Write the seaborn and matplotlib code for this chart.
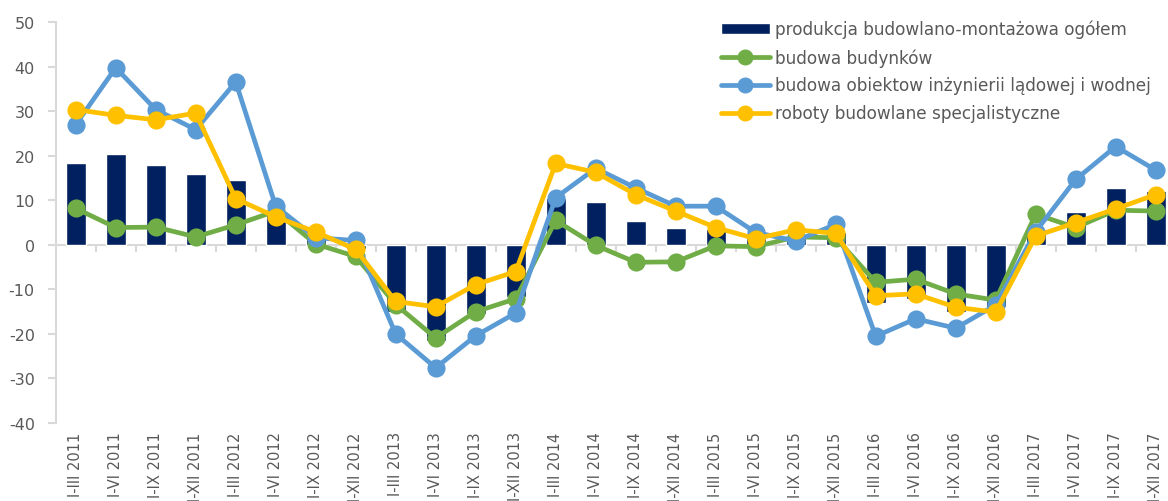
import pandas as pd
import seaborn as sns
import matplotlib.pyplot as plt
from matplotlib.lines import Line2D
from matplotlib.patches import Patch

periods = []
for year in range(2011, 2018):
    for q in ["I-III", "I-VI", "I-IX", "I-XII"]:
        periods.append(f"{q} {year}")

ogolem = [18.4, 20.4, 18.0, 16.0, 14.5, 7.5, 1.3, -1.0, -15.1, -21.5, -15.5, -11.8, 10.6, 9.7,
          5.4, 3.7, 3.5, 1.5, 1.5, 2.8, -13.0, -12.1, -15.0, -14.0, 3.5, 7.4, 12.8, 12.1]
budynki = [8.2, 3.9, 4.0, 1.8, 4.5, 7.6, 0.2, -2.6, -13.4, -20.9, -15.0, -12.1, 5.5, -0.1,
           -3.9, -3.8, -0.2, -0.4, 1.8, 1.6, -8.4, -7.7, -11.0, -12.4, 6.9, 3.9, 7.8, 7.6]
inzynieria = [27.0, 39.8, 30.4, 25.9, 36.6, 8.7, 1.6, 1.0, -20.0, -27.6, -20.4, -15.3, 10.6, 17.2,
              12.8, 8.7, 8.7, 2.8, 0.9, 4.6, -20.5, -16.6, -18.7, -13.5, 3.0, 14.7, 22.1, 16.8]
specjalistyczne = [30.4, 29.1, 28.1, 29.6, 10.4, 6.3, 2.9, -1.0, -12.7, -13.9, -8.9, -6.0, 18.3, 16.3,
                   11.3, 7.6, 3.9, 1.4, 3.4, 2.6, -11.4, -11.0, -14.0, -15.1, 2.0, 5.0, 8.1, 11.3]

bar_name = "produkcja budowlano-montażowa ogółem"
line_names = ["budowa budynków", "budowa obiektow inżynierii lądowej i wodnej",
              "roboty budowlane specjalistyczne"]
colours = {"bar": "#002060", line_names[0]: "#70AD47", line_names[1]: "#5B9BD5",
           line_names[2]: "#FFC000"}

barDf = pd.DataFrame({"Okres": periods, "Wartosc": ogolem})
lineDf = pd.concat([
    pd.DataFrame({"Okres": periods, "Wartosc": vals, "Seria": name})
    for name, vals in zip(line_names, [budynki, inzynieria, specjalistyczne])
])

sns.set_style("white")
plt.rcParams["font.family"] = ["DejaVu Sans"]
plt.rcParams["axes.unicode_minus"] = False
textGrey = "#595959"
axisGrey = "#D9D9D9"

fig = plt.figure(figsize=(11.68, 5.02), dpi=100)
ax = fig.add_axes([55.7 / 1168, 78 / 502, 1120 / 1168, 400.7 / 502])

sns.barplot(data=barDf, x="Okres", y="Wartosc", order=periods, color=colours["bar"],
            width=0.5, saturation=1, ax=ax, zorder=2)
sns.pointplot(data=lineDf, x="Okres", y="Wartosc", hue="Seria", order=periods,
              hue_order=line_names, palette=[colours[n] for n in line_names],
              markers="o", markersize=10.5, linewidth=3.4, ax=ax, legend=False)
for ln in ax.lines:
    ln.set_zorder(3)

ax.set_ylim(-40, 50)
ax.set_xlim(-0.5, len(periods) - 0.5)
ax.set_yticks(range(-40, 51, 10))
ax.set_xlabel("")
ax.set_ylabel("")

# osie w stylu Excela: linia zera z kreskami pomiedzy kategoriami
for side in ["right", "bottom"]:
    ax.spines[side].set_visible(False)
ax.spines["top"].set_position(("data", 0))
ax.spines["top"].set_color(axisGrey)
ax.spines["top"].set_linewidth(1.5)
ax.spines["top"].set_zorder(1)
ax.spines["left"].set_color(axisGrey)
ax.spines["left"].set_linewidth(1.5)
ax.set_xticks([i + 0.5 for i in range(len(periods) - 1)], minor=True)
ax.tick_params(axis="x", which="minor", bottom=False, top=True, direction="in",
               length=5, width=1.5, color=axisGrey)
ax.tick_params(axis="x", which="major", bottom=True, top=False, length=0, pad=6,
               labelsize=10.5, labelcolor=textGrey, labelrotation=90)
ax.tick_params(axis="y", left=True, length=6, width=1.5, color=axisGrey, pad=9,
               labelsize=11.5, labelcolor=textGrey)
for lab in ax.get_xticklabels():
    lab.set_verticalalignment("top")

handles = [Patch(facecolor=colours["bar"], label=bar_name)]
for n in line_names:
    handles.append(Line2D([], [], color=colours[n], linewidth=3.4, marker="o",
                          markersize=10.5, label=n))
leg = fig.legend(handles=handles, loc="upper left", bbox_to_anchor=(714 / 1168, 1 - 14 / 502),
                 frameon=False, fontsize=12.2, handlelength=2.9, handleheight=0.6,
                 labelspacing=0.58, handletextpad=0.3, borderaxespad=0)
for t in leg.get_texts():
    t.set_color(textGrey)

fig.savefig("out.png", dpi=100)
